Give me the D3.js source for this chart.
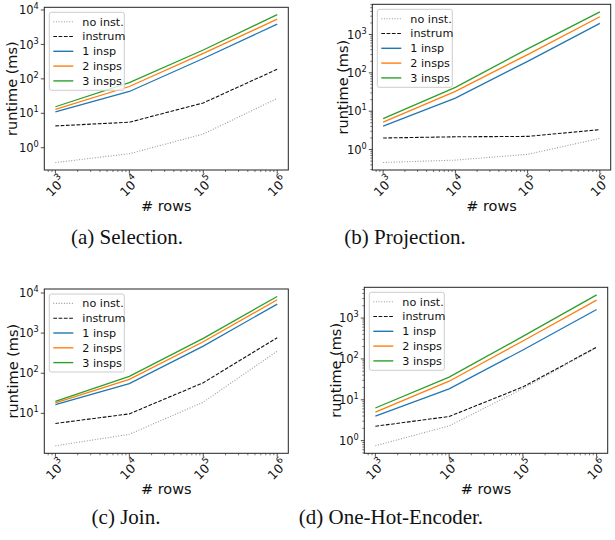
<!DOCTYPE html>
<html>
<head>
<meta charset="utf-8">
<script src="https://cdn.jsdelivr.net/npm/d3@7"></script>
<style>
  body { margin: 0; background: #fff; }
  svg { display: block; }
</style>
</head>
<body>
<svg id="fig" width="615" height="540"></svg>
<script>
// ---- data (runtime in ms) ----
const rows = [1e3, 1e4, 1e5, 1e6];
const seriesNames = ["no inst.", "instrum", "1 insp", "2 insps", "3 insps"];

const selection = [
  [0.37, 0.67, 2.5, 27],
  [4.3, 5.5, 20, 190],
  [11, 43, 390, 3900],
  [13, 60, 550, 5400],
  [15.5, 78, 690, 7300]];
const projection = [
  [0.46, 0.53, 0.75, 1.95],
  [2.0, 2.15, 2.2, 3.3],
  [4.1, 22, 200, 1950],
  [5.2, 33, 300, 2900],
  [6.4, 42, 420, 3900]];
const join = [
  [1.55, 3.0, 19, 355],
  [5.6, 9.7, 58, 770],
  [16.5, 55, 475, 5300],
  [18.2, 70, 610, 6800],
  [20, 84, 740, 8200]];
const oneHot = [
  [0.75, 2.3, 18.7, 190],
  [2.25, 3.9, 20.6, 194],
  [4.0, 18.5, 165, 1620],
  [5.0, 28.5, 275, 2750],
  [6.3, 36, 355, 3700]];
const captions = ["(a) Selection.", "(b) Projection.", "(c) Join.", "(d) One-Hot-Encoder."];

// ---- styles ----
const colors = ["#9a9a9a", "#111", "#1f77b4", "#ff7f0e", "#2ca02c"];
const dashes = ["1,1.65", "3.7,1.6", null, null, null];

const panels = [
  {data: selection,  left: 44.3,  right: 288.3, top: 7.3,   bottom: 170,   yMinor: false, ylabelX: 12,  cap: [127, 244]},
  {data: projection, left: 372.3, right: 610.7, top: 4.3,   bottom: 170,   yMinor: true,  ylabelX: 343, cap: [405, 244]},
  {data: join,       left: 44.3,  right: 288.3, top: 289,   bottom: 453.3, yMinor: false, ylabelX: 13,  cap: [126, 524]},
  {data: oneHot,     left: 364.3, right: 607.7, top: 287.3, bottom: 453.3, yMinor: true,  ylabelX: 336, cap: [391, 524]}
];

const svg = d3.select("#fig");
const sans = "DejaVu Sans, sans-serif";

function powLabel(sel, exp, supSize) {
  sel.append("tspan").text("10");
  sel.append("tspan").attr("dy", -5).attr("font-size", supSize).text(exp);
}

panels.forEach(function (p, i) {
  const g = svg.append("g");

  const x = d3.scaleLog()
    .domain([Math.pow(10, 2.85), Math.pow(10, 6.15)])
    .range([p.left, p.right]);

  // matplotlib-like autoscale: 5% margin in log space
  const all = p.data.flat();
  const lo = Math.log10(d3.min(all)), hi = Math.log10(d3.max(all));
  const pad = 0.05 * (hi - lo);
  const y = d3.scaleLog()
    .domain([Math.pow(10, lo - pad), Math.pow(10, hi + pad)])
    .range([p.bottom, p.top]);

  // series lines
  const line = d3.line()
    .x(function (d, j) { return x(rows[j]); })
    .y(function (d) { return y(d); });

  p.data.forEach(function (vals, k) {
    g.append("path")
      .attr("d", line(vals))
      .attr("fill", "none")
      .attr("stroke", colors[k])
      .attr("stroke-width", k < 2 ? 1.1 : 1.3)
      .attr("stroke-dasharray", dashes[k]);
  });

  // frame
  g.append("rect")
    .attr("x", p.left).attr("y", p.top)
    .attr("width", p.right - p.left).attr("height", p.bottom - p.top)
    .attr("fill", "none").attr("stroke", "#222").attr("stroke-width", 1);

  // x ticks
  const xMinor = [];
  for (let e = 2; e <= 6; e++)
    for (let m = 2; m <= 9; m++) {
      const v = m * Math.pow(10, e);
      if (v > x.domain()[0] && v < x.domain()[1]) xMinor.push(v);
    }
  g.selectAll(".xminor").data(xMinor).enter().append("line")
    .attr("x1", function (d) { return x(d); }).attr("x2", function (d) { return x(d); })
    .attr("y1", p.bottom).attr("y2", p.bottom + 2)
    .attr("stroke", "#222").attr("stroke-width", 0.6);
  rows.forEach(function (v, j) {
    g.append("line")
      .attr("x1", x(v)).attr("x2", x(v))
      .attr("y1", p.bottom).attr("y2", p.bottom + 3.5)
      .attr("stroke", "#222").attr("stroke-width", 0.8);
    const t = g.append("text")
      .attr("transform", "translate(" + x(v) + "," + (p.bottom + 16) + ") rotate(-45)")
      .attr("text-anchor", "middle")
      .attr("dominant-baseline", "central")
      .attr("font-family", sans).attr("font-size", 12.5).attr("fill", "#111");
    powLabel(t, 3 + j, 9);
  });

  // y ticks
  const [d0, d1] = y.domain();
  const majors = [];
  for (let e = Math.ceil(Math.log10(d0)); e <= Math.floor(Math.log10(d1)); e++) majors.push(e);
  if (p.yMinor) {
    const yMinor = [];
    for (let e = Math.floor(Math.log10(d0)); e <= Math.ceil(Math.log10(d1)); e++)
      for (let m = 2; m <= 9; m++) {
        const v = m * Math.pow(10, e);
        if (v > d0 && v < d1) yMinor.push(v);
      }
    g.selectAll(".yminor").data(yMinor).enter().append("line")
      .attr("x1", p.left - 2).attr("x2", p.left)
      .attr("y1", function (d) { return y(d); }).attr("y2", function (d) { return y(d); })
      .attr("stroke", "#222").attr("stroke-width", 0.6);
  }
  majors.forEach(function (e) {
    g.append("line")
      .attr("x1", p.left - 3.5).attr("x2", p.left)
      .attr("y1", y(Math.pow(10, e))).attr("y2", y(Math.pow(10, e)))
      .attr("stroke", "#222").attr("stroke-width", 0.8);
    const t = g.append("text")
      .attr("x", p.left - 5.5).attr("y", y(Math.pow(10, e)) + 4.1)
      .attr("text-anchor", "end")
      .attr("font-family", sans).attr("font-size", 11.5).attr("fill", "#111");
    powLabel(t, e, 8.2);
  });

  // axis labels
  g.append("text")
    .attr("transform", "translate(" + p.ylabelX + "," + ((p.top + p.bottom) / 2) + ") rotate(-90)")
    .attr("text-anchor", "middle").attr("dominant-baseline", "central")
    .attr("font-family", sans).attr("font-size", 14.5).attr("fill", "#111")
    .text("runtime (ms)");
  g.append("text")
    .attr("x", (p.left + p.right) / 2).attr("y", p.bottom + 41)
    .attr("text-anchor", "middle")
    .attr("font-family", sans).attr("font-size", 14.5).attr("fill", "#111")
    .text("# rows");

  // legend
  const lg = g.append("g").attr("transform", "translate(" + (p.left + 5) + "," + (p.top + 5) + ")");
  lg.append("rect")
    .attr("width", 75).attr("height", 78).attr("rx", 2)
    .attr("fill", "#fff").attr("fill-opacity", 0.8)
    .attr("stroke", "#ccc").attr("stroke-width", 1);
  seriesNames.forEach(function (name, k) {
    const yy = 9.4 + k * 14.8;
    lg.append("line")
      .attr("x1", 4).attr("x2", 24).attr("y1", yy).attr("y2", yy)
      .attr("stroke", colors[k]).attr("stroke-width", k < 2 ? 1.1 : 1.4)
      .attr("stroke-dasharray", dashes[k]);
    lg.append("text")
      .attr("x", 33).attr("y", yy + 4)
      .attr("font-family", sans).attr("font-size", 11.2).attr("fill", "#111")
      .text(name);
  });

  // caption
  svg.append("text")
    .attr("x", p.cap[0]).attr("y", p.cap[1])
    .attr("text-anchor", "middle")
    .attr("font-family", "Liberation Serif, serif").attr("font-size", 21).attr("fill", "#111")
    .text(captions[i]);
});
</script>
</body>
</html>
